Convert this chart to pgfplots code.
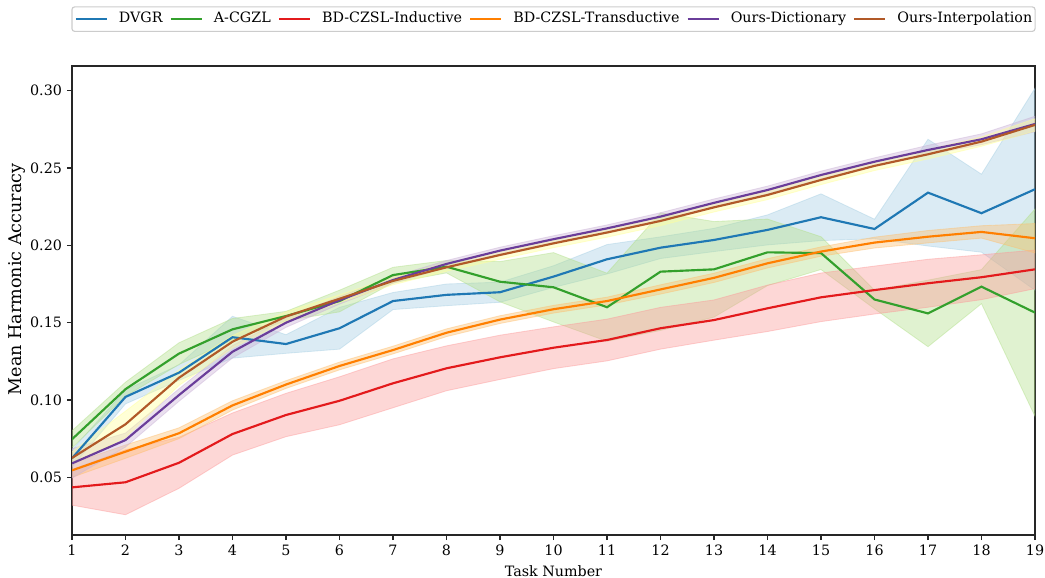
\documentclass[border=0pt]{standalone}
\usepackage{pgfplots}
\pgfplotsset{compat=1.18}
\usepackage{pgfplotstable}
\usepgfplotslibrary{fillbetween}
\usepackage{fontspec}
\setmainfont{DejaVu Serif}

\definecolor{cBlue}{HTML}{1F78B4}\definecolor{cBlueL}{HTML}{A6CEE3}
\definecolor{cGreen}{HTML}{33A02C}\definecolor{cGreenL}{HTML}{B2DF8A}
\definecolor{cRed}{HTML}{E31A1C}\definecolor{cRedL}{HTML}{FB9A99}
\definecolor{cOrange}{HTML}{FF7F00}\definecolor{cOrangeL}{HTML}{FDBF6F}
\definecolor{cPurple}{HTML}{6A3D9A}\definecolor{cPurpleL}{HTML}{CAB2D6}
\definecolor{cBrown}{HTML}{B15928}\definecolor{cYellowL}{HTML}{FFFF99}

\pgfplotstableread{
x m s
1 0.0623 0.0055
2 0.1020 0.0045
3 0.1177 0.0050
4 0.1406 0.0135
5 0.1362 0.0060
6 0.1464 0.0135
7 0.1640 0.0055
8 0.1680 0.0070
9 0.1697 0.0065
10 0.1798 0.0070
11 0.1910 0.0095
12 0.1985 0.0070
13 0.2035 0.0075
14 0.2100 0.0097
15 0.2182 0.0151
16 0.2106 0.0063
17 0.2341 0.0345
18 0.2208 0.0252
19 0.2363 0.0653
}\dvgr

\pgfplotstableread{
x m s
1 0.0746 0.0055
2 0.1070 0.0045
3 0.1300 0.0070
4 0.1457 0.0070
5 0.1543 0.0030
6 0.1640 0.0070
7 0.1808 0.0050
8 0.1862 0.0040
9 0.1765 0.0130
10 0.1729 0.0224
11 0.1600 0.0220
12 0.1830 0.0380
13 0.1845 0.0309
14 0.1955 0.0215
15 0.1950 0.0106
16 0.1650 0.0060
17 0.1560 0.0215
18 0.1733 0.0110
19 0.1565 0.0670
}\acgzl

\pgfplotstableread{
x m s
1 0.0435 0.0115
2 0.0468 0.0210
3 0.0594 0.0165
4 0.0780 0.0136
5 0.0903 0.0140
6 0.0995 0.0155
7 0.1108 0.0158
8 0.1205 0.0145
9 0.1276 0.0143
10 0.1338 0.0135
11 0.1388 0.0135
12 0.1464 0.0135
13 0.1517 0.0130
14 0.1593 0.0150
15 0.1664 0.0157
16 0.1711 0.0155
17 0.1755 0.0155
18 0.1794 0.0145
19 0.1845 0.0125
}\bdind

\pgfplotstableread{
x m s
1 0.0545 0.0045
2 0.0666 0.0043
3 0.0785 0.0035
4 0.0965 0.0030
5 0.1100 0.0025
6 0.1220 0.0025
7 0.1323 0.0025
8 0.1435 0.0025
9 0.1520 0.0025
10 0.1587 0.0025
11 0.1640 0.0025
12 0.1715 0.0030
13 0.1790 0.0030
14 0.1884 0.0030
15 0.1960 0.0030
16 0.2018 0.0035
17 0.2056 0.0040
18 0.2087 0.0040
19 0.2046 0.0095
}\bdtra

\pgfplotstableread{
x m s
1 0.0590 0.0095
2 0.0741 0.0045
3 0.1032 0.0040
4 0.1312 0.0040
5 0.1500 0.0030
6 0.1645 0.0025
7 0.1776 0.0022
8 0.1880 0.0022
9 0.1966 0.0022
10 0.2040 0.0022
11 0.2110 0.0022
12 0.2186 0.0025
13 0.2275 0.0025
14 0.2358 0.0025
15 0.2455 0.0025
16 0.2541 0.0025
17 0.2617 0.0030
18 0.2686 0.0035
19 0.2785 0.0050
}\odict

\pgfplotstableread{
x m s
1 0.0625 0.0040
2 0.0843 0.0085
3 0.1144 0.0050
4 0.1377 0.0040
5 0.1540 0.0030
6 0.1655 0.0025
7 0.1770 0.0025
8 0.1858 0.0025
9 0.1938 0.0028
10 0.2013 0.0028
11 0.2083 0.0030
12 0.2158 0.0030
13 0.2246 0.0030
14 0.2326 0.0030
15 0.2423 0.0030
16 0.2514 0.0030
17 0.2589 0.0030
18 0.2671 0.0030
19 0.2779 0.0040
}\ointp

\newcommand{\band}[3]{%
  \addplot[name path=#1U, draw=none, forget plot] table[x=x, y expr=\thisrow{m}+\thisrow{s}] {#2};
  \addplot[name path=#1L, draw=none, forget plot] table[x=x, y expr=\thisrow{m}-\thisrow{s}] {#2};
  \addplot[fill=#3, draw=#3, line width=0.6pt, fill opacity=0.4, draw opacity=0.45, forget plot] fill between[of=#1U and #1L];
}

\begin{document}
\begin{tikzpicture}
\begin{axis}[
  scale only axis, width=674.1pt, height=328.3pt,
  xmin=1, xmax=19, ymin=0.0127, ymax=0.316,
  xtick={1,2,...,19},
  ytick={0.05,0.10,0.15,0.20,0.25,0.30},
  yticklabel style={/pgf/number format/.cd, fixed, fixed zerofill, precision=2},
  /pgf/number format/assume math mode=true,
  tick align=outside, xtick pos=bottom, ytick pos=left,
  major tick length=3.5pt,
  tick style={black!85, line width=0.8pt},
  axis line style={black!85, line width=0.8pt},
  tick label style={font=\fontsize{10}{12}\selectfont},
  xlabel={Task Number}, ylabel={Mean Harmonic Accuracy},
  xlabel style={font=\fontsize{10}{12}\selectfont, at={(axis description cs:0.5,0)}, anchor=north, inner sep=0pt, yshift=-21pt},
  ylabel style={font=\fontsize{12.3}{14}\selectfont, at={(axis description cs:-0.0576,0.545)}, anchor=center, inner sep=0pt},
  legend columns=6,
  legend image code/.code={\draw[#1] (0pt,0pt) -- (21.7pt,0pt);},
  legend style={at={(0.5,1)}, anchor=south, yshift=23.8pt,
    draw=black!20, line width=0.8pt, rounded corners=2pt, fill=white,
    font=\fontsize{10}{12}\selectfont,
    inner xsep=2pt, inner ysep=3.8pt,
    nodes={inner sep=0pt, text height=7.3pt, text depth=2.3pt},
    /tikz/every odd column/.append style={column sep=7.7pt},
    /tikz/every even column/.append style={column sep=5pt}},
  clip=true,
]
\band{a}{\dvgr}{cBlueL}
\band{b}{\acgzl}{cGreenL}
\band{c}{\bdind}{cRedL}
\band{d}{\bdtra}{cOrangeL}
\band{e}{\odict}{cPurpleL}
\band{f}{\ointp}{cYellowL}

\addplot[cBlue, line width=1.5pt] table[x=x, y=m] {\dvgr};
\addlegendentry{DVGR}
\addplot[cGreen, line width=1.5pt] table[x=x, y=m] {\acgzl};
\addlegendentry{A-CGZL}
\addplot[cRed, line width=1.5pt] table[x=x, y=m] {\bdind};
\addlegendentry{BD-CZSL-Inductive}
\addplot[cOrange, line width=1.5pt] table[x=x, y=m] {\bdtra};
\addlegendentry{BD-CZSL-Transductive}
\addplot[cPurple, line width=1.5pt] table[x=x, y=m] {\odict};
\addlegendentry{Ours-Dictionary}
\addplot[cBrown, line width=1.5pt] table[x=x, y=m] {\ointp};
\addlegendentry{Ours-Interpolation}

\coordinate (bl) at (rel axis cs:0,0);
\coordinate (tr) at (rel axis cs:1,1);
\end{axis}
\pgfresetboundingbox
\path ([shift={(-50.4pt,-30.1pt)}]bl) rectangle ([shift={(7pt,46.2pt)}]tr);
\end{tikzpicture}
\end{document}
